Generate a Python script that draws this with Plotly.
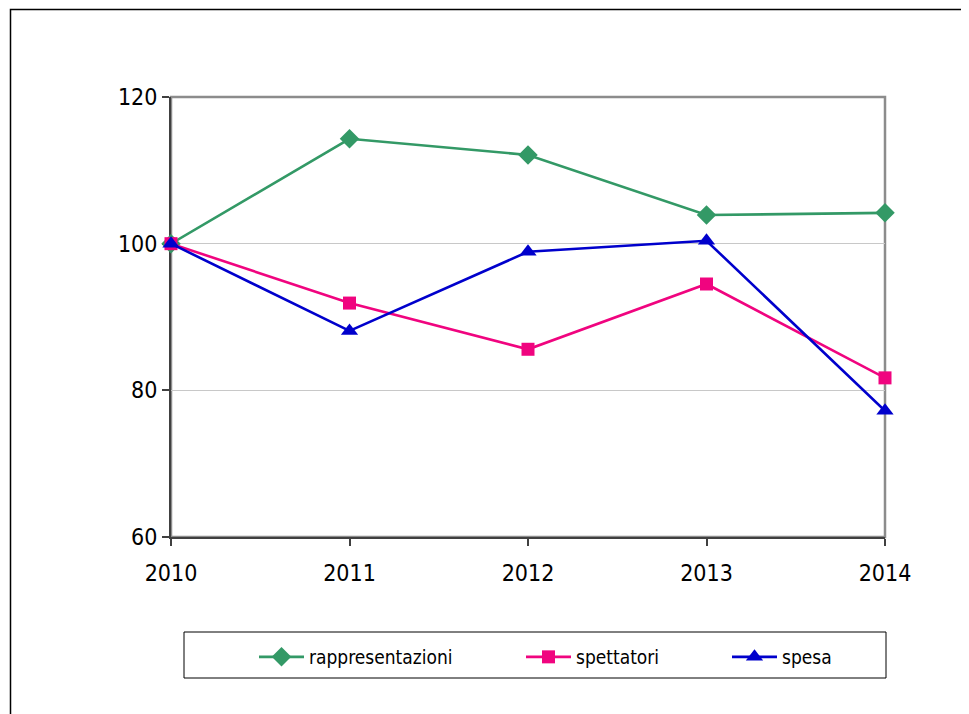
import plotly.graph_objects as go

years = [2010, 2011, 2012, 2013, 2014]
rappresentazioni = [100, 114.3, 112.1, 103.9, 104.2]
spettatori = [100, 91.9, 85.6, 94.5, 81.7]
spesa = [100, 88.1, 98.9, 100.4, 77.2]

FONT = "DejaVu Sans Condensed, Liberation Sans Narrow, Liberation Sans, sans-serif"

OFF = 8  # default page body margin
W, H = 969 - OFF, 714 - OFF
L, R, T, B = 171 - OFF, 885 - OFF, 97 - OFF, 537 - OFF

def px_x(x):
    return (x - OFF - L) / (R - L)

def px_y(y):
    return (B - (y - OFF)) / (B - T)

fig = go.Figure()
series = [
    ("rappresentazioni", rappresentazioni, "#339966", "diamond", 15, "legend"),
    ("spettatori", spettatori, "#F0047F", "square", 13, "legend2"),
    ("spesa", spesa, "#0000CC", "triangle-up", 15, "legend3"),
]
for name, vals, col, sym, sz, lg in series:
    fig.add_trace(go.Scatter(
        x=years, y=vals, name=name, mode="lines+markers",
        line=dict(color=col, width=2.6),
        marker=dict(symbol=sym, size=sz, color=col),
        cliponaxis=False, legend=lg, showlegend=True,
    ))

leg_common = dict(orientation="h", yanchor="middle", xanchor="left",
                  font=dict(family=FONT, size=19, color="#000000"),
                  bgcolor="rgba(0,0,0,0)", borderwidth=0, itemwidth=45)
ly = px_y(657)
fig.update_layout(
    showlegend=True,
    legend=dict(x=px_x(254), y=ly, **leg_common),
    legend2=dict(x=px_x(521), y=ly, **leg_common),
    legend3=dict(x=px_x(727), y=ly, **leg_common),
)

fig.update_layout(
    width=W, height=H,
    margin=dict(l=L, r=W - R, t=T, b=H - B, pad=0),
    paper_bgcolor="white", plot_bgcolor="white",
    font=dict(family=FONT, size=23, color="#000000"),
    xaxis=dict(
        range=[2010, 2014], tickvals=years, ticktext=[str(y) for y in years],
        showgrid=False, zeroline=False,
        showline=True, linecolor="#404040", linewidth=2,
        ticks="outside", ticklen=7, tickcolor="#404040", tickwidth=1.5,
        tickfont=dict(family=FONT, size=23), layer="below traces",
        ticklabelstandoff=7,
    ),
    yaxis=dict(
        range=[60, 120], tickvals=[60, 80, 100, 120],
        showgrid=True, gridcolor="#C8C8C8", gridwidth=1, zeroline=False,
        showline=True, linecolor="#404040", linewidth=2,
        ticks="outside", ticklen=7, tickcolor="#404040", tickwidth=1.5,
        tickfont=dict(family=FONT, size=23), layer="below traces",
    ),
    shapes=[
        dict(type="rect", xref="paper", yref="paper", x0=0, x1=1, y0=0, y1=1,
             line=dict(color="#8C8C8C", width=2.5), layer="below"),
        dict(type="rect", xref="paper", yref="paper",
             x0=px_x(184), x1=px_x(886), y0=px_y(678), y1=px_y(632),
             line=dict(color="#000000", width=1), layer="below"),
        dict(type="rect", xref="paper", yref="paper",
             x0=px_x(10.5), x1=px_x(990), y0=px_y(740), y1=px_y(9.5),
             line=dict(color="#000000", width=1.5), layer="below"),
    ],
)

fig.write_html("out.html")
